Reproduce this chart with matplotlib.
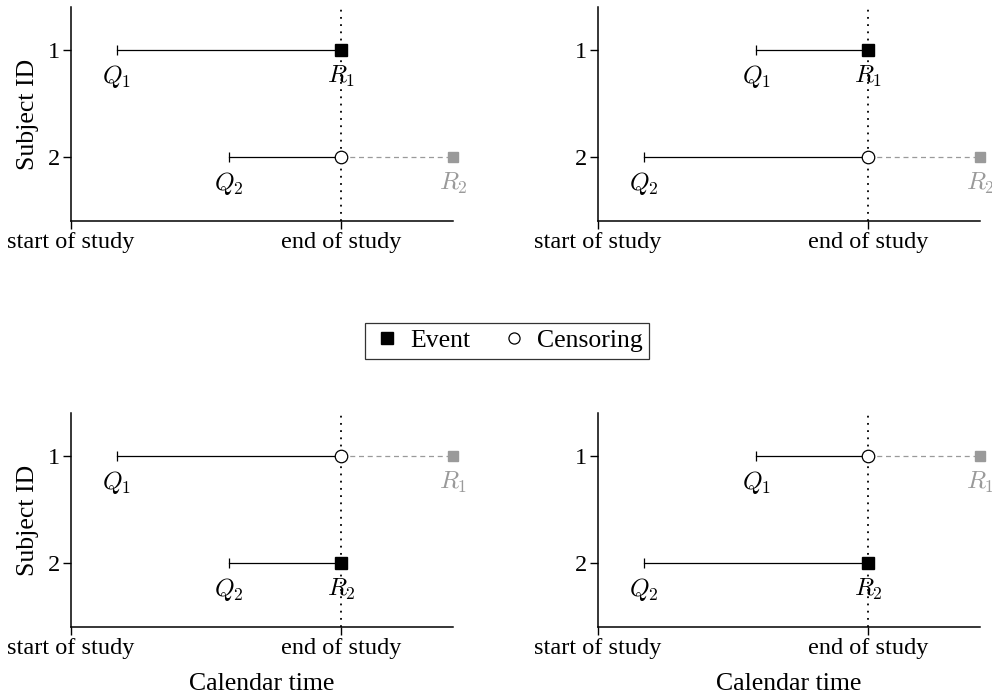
import numpy as np
import matplotlib
matplotlib.use("Agg")
import matplotlib.pyplot as plt
from matplotlib.lines import Line2D

plt.rcParams['font.family'] = ['Liberation Serif', 'DejaVu Serif']
plt.rcParams['mathtext.fontset'] = 'cm'

### data
study_start = 0.0
study_end = 10.0
subjects = [1, 2]
tick_labels = ['start of study', 'end of study']

# entry times (Q) and event times (R) for each panel, order: top-left, top-right, bottom-left, bottom-right
entry_times = [[1.7, 5.85], [5.85, 1.7], [1.7, 5.85], [5.85, 1.7]]
event_times = [[10.0, 14.15], [10.0, 14.15], [14.15, 10.0], [14.15, 10.0]]

x_max = 14.15
grey = '#9a9a9a'

fig = plt.figure(figsize=(9.92, 6.97), dpi=100)

# axes boxes in figure fractions
lefts = [0.0716, 0.603, 0.0716, 0.603]
bottoms = [0.683, 0.683, 0.100, 0.100]
width = 0.385
height = 0.307

for k in range(4):
    ax = fig.add_axes([lefts[k], bottoms[k], width, height])
    Q = entry_times[k]
    R = event_times[k]

    ax.axvline(study_end, color='k', ls=(0, (1, 3)), lw=1.3, zorder=1)

    for i, s in enumerate(subjects):
        q, r = Q[i], R[i]
        if r <= study_end:
            ax.plot([q, r], [s, s], color='k', lw=0.9, zorder=2)
            ax.plot([q], [s], marker='|', color='k', ms=7, mew=0.9, zorder=3)
            ax.plot([r], [s], marker='s', color='k', ms=8, ls='none', zorder=4)
            ax.text(r, s + 0.25, r'$R_{%d}$' % s, ha='center', va='center', fontsize=18, color='k')
        else:
            ax.plot([q, study_end], [s, s], color='k', lw=0.9, zorder=2)
            ax.plot([q], [s], marker='|', color='k', ms=7, mew=0.9, zorder=3)
            ax.plot([study_end, r], [s, s], color=grey, lw=0.9, ls=(0, (4, 3)), zorder=2)
            ax.plot([study_end], [s], marker='o', mfc='white', mec='k', mew=0.9, ms=9, ls='none', zorder=4)
            ax.plot([r], [s], marker='s', color=grey, ms=7.5, ls='none', zorder=4, clip_on=False)
            ax.text(r, s + 0.25, r'$R_{%d}$' % s, ha='center', va='center', fontsize=18, color=grey)
        ax.text(q, s + 0.25, r'$Q_{%d}$' % s, ha='center', va='center', fontsize=18, color='k')

    ax.set_xlim(study_start, x_max)
    ax.set_ylim(2.6, 0.6)
    ax.set_xticks([study_start, study_end])
    ax.set_xticklabels(tick_labels)
    ax.set_yticks(subjects)
    ax.tick_params(labelsize=17.5, direction='out', length=6, width=1, pad=2)
    for side in ['top', 'right']:
        ax.spines[side].set_visible(False)
    for side in ['left', 'bottom']:
        ax.spines[side].set_linewidth(1.1)

    if k % 2 == 0:
        ax.set_ylabel('Subject ID', fontsize=18.5, labelpad=6)
    if k >= 2:
        ax.set_xlabel('Calendar time', fontsize=18.5, labelpad=10)

handles = [Line2D([], [], marker='s', color='k', ls='none', ms=8),
           Line2D([], [], marker='o', mfc='white', mec='k', ls='none', ms=8, mew=0.9)]
leg = fig.legend(handles, ['Event', 'Censoring'], loc='center', bbox_to_anchor=(0.511, 0.511),
                 ncol=2, fontsize=18.5, frameon=True, fancybox=False, edgecolor='k',
                 handletextpad=0.3, columnspacing=1.1, handlelength=1.2, borderpad=0.25)
leg.get_frame().set_linewidth(0.9)

fig.savefig('out.png', dpi=100)
